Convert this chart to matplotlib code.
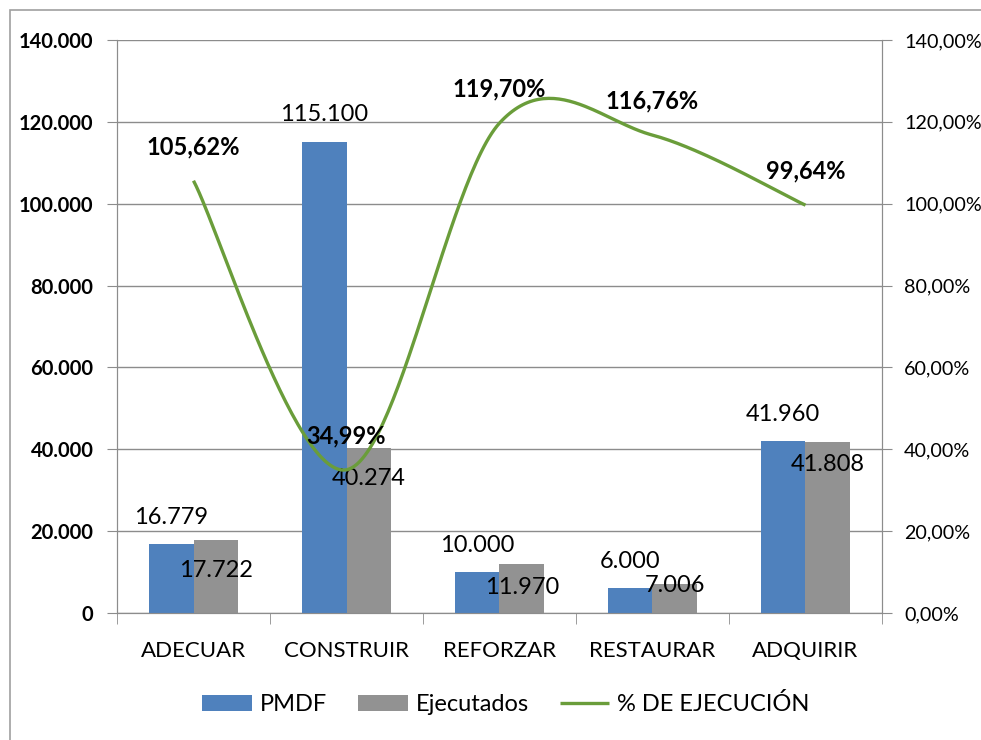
import numpy as np
import matplotlib.pyplot as plt
from matplotlib.patches import Rectangle
from matplotlib.ticker import FuncFormatter, MultipleLocator

plt.rcParams["font.family"] = ["Lato", "DejaVu Sans"]

categorias = ["ADECUAR", "CONSTRUIR", "REFORZAR", "RESTAURAR", "ADQUIRIR"]
pmdf = [16779, 115100, 10000, 6000, 41960]
ejecutados = [17722, 40274, 11970, 7006, 41808]
ejecucion = [105.62, 34.99, 119.70, 116.76, 99.64]

# vertical placement of the executed-value labels (pixels below the bar top)
bajada_ejec = [30, 30, 23, 1, 23]

AZUL = "#4F81BD"
GRIS = "#929292"
VERDE = "#6A9D3A"
LINEA = "#8C8C8C"


def miles(v, pos):
    return f"{int(v):,}".replace(",", ".")


def porcentaje(v, pos):
    return f"{v:.2f}%".replace(".", ",")


def suavizar(xs, ys, pasos=60):
    # Catmull-Rom style bezier through the points, like a smoothed office line
    pts = np.column_stack([xs, ys]).astype(float)
    n = len(pts)
    out = []
    for i in range(n - 1):
        p0 = pts[max(i - 1, 0)]
        p1 = pts[i]
        p2 = pts[i + 1]
        p3 = pts[min(i + 2, n - 1)]
        c1 = p1 + (p2 - p0) / 6
        c2 = p2 - (p3 - p1) / 6
        t = np.linspace(0, 1, pasos)[:, None]
        seg = ((1 - t) ** 3) * p1 + 3 * ((1 - t) ** 2) * t * c1 + 3 * (1 - t) * t ** 2 * c2 + t ** 3 * p2
        out.append(seg if i == 0 else seg[1:])
    out = np.vstack(out)
    return out[:, 0], out[:, 1]


fig = plt.figure(figsize=(9.81, 7.4), dpi=100)
ax = fig.add_axes([117 / 981, 1 - 613 / 740, 765 / 981, 573 / 740])
ax2 = ax.twinx()

# outer chart frame (only top and left edges fall inside the image)
fig.patches.append(Rectangle((10 / 981, -0.1), 1.2, 1 - 10 / 740 + 0.1,
                             transform=fig.transFigure, fill=False,
                             edgecolor="#A0A0A0", linewidth=1.2, zorder=0))

x = np.arange(len(categorias))
ancho = 0.29
b1 = ax.bar(x - ancho / 2, pmdf, ancho, color=AZUL, label="PMDF", zorder=3)
b2 = ax.bar(x + ancho / 2, ejecutados, ancho, color=GRIS, label="Ejecutados", zorder=3)

ax.set_xlim(-0.5, len(categorias) - 0.5)
ax.set_ylim(0, 140000)
ax.yaxis.set_major_locator(MultipleLocator(20000))
ax.yaxis.set_major_formatter(FuncFormatter(miles))
ax.grid(axis="y", color=LINEA, linewidth=1, zorder=0)
ax.set_axisbelow(True)

ax.set_xticks(x)
ax.set_xticklabels(categorias, fontsize=16)
ax.set_xticks(np.arange(-0.5, len(categorias)), minor=True)
ax.tick_params(axis="x", which="major", length=0, pad=20)
ax.tick_params(axis="x", which="minor", length=8, color=LINEA, direction="out")
ax.tick_params(axis="y", length=7, color=LINEA, pad=10, labelsize=14.5)
for lbl in ax.get_yticklabels():
    lbl.set_fontweight("bold")

for s in ["top"]:
    ax.spines[s].set_visible(False)
    ax2.spines[s].set_visible(False)
for s in ["left", "bottom", "right"]:
    ax.spines[s].set_color(LINEA)
    ax2.spines[s].set_color(LINEA)

ax2.set_ylim(0, 140)
ax2.yaxis.set_major_locator(MultipleLocator(20))
ax2.yaxis.set_major_formatter(FuncFormatter(porcentaje))
ax2.tick_params(axis="y", length=7, color=LINEA, pad=9, labelsize=14.2)

xs, ys = suavizar(x, ejecucion)
ax2.plot(xs, ys, color=VERDE, linewidth=2.4, solid_capstyle="butt",
         label="% DE EJECUCIÓN", zorder=4)

# value labels
for xi, v in zip(x, pmdf):
    ax.annotate(miles(v, None), (xi - ancho / 2, v), xytext=(0, 27 * 0.72),
                textcoords="offset points", ha="center", va="center",
                fontsize=17, zorder=6)
for xi, v, d in zip(x, ejecutados, bajada_ejec):
    ax.annotate(miles(v, None), (xi + ancho / 2, v), xytext=(0, -d * 0.72),
                textcoords="offset points", ha="center", va="center",
                fontsize=17, zorder=6)
for xi, v in zip(x, ejecucion):
    ax2.annotate(f"{v:.2f}%".replace(".", ","), (xi, v), xytext=(0, 34 * 0.72),
                 textcoords="offset points", ha="center", va="center",
                 fontsize=17, fontweight="bold", zorder=6)

h1, l1 = ax.get_legend_handles_labels()
h2, l2 = ax2.get_legend_handles_labels()
fig.legend(h1 + h2, l1 + l2, loc="center", bbox_to_anchor=(506 / 981, 1 - 704 / 740),
           ncol=3, frameon=False, fontsize=17, handlelength=2.1,
           handleheight=0.65, handletextpad=0.35, columnspacing=1.3)

fig.savefig("out.png", dpi=100)
